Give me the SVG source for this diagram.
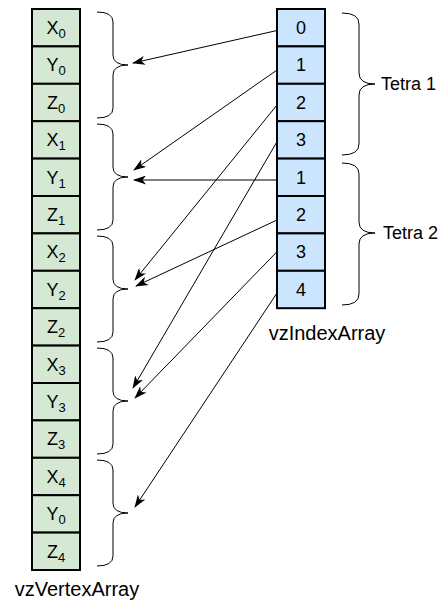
<svg xmlns="http://www.w3.org/2000/svg" width="448" height="603" viewBox="0 0 448 603">
<style>
.vc{fill:#d5e8d4;stroke:#000;stroke-width:2}
.ic{fill:#cce5ff;stroke:#000;stroke-width:2}
.t{font-family:"Liberation Sans",Arial,sans-serif;font-size:18px;fill:#000;text-anchor:middle}
.lbl{font-family:"Liberation Sans",Arial,sans-serif;font-size:18px;fill:#000}
.big{font-size:20px;text-anchor:middle}
.sub{font-size:13px}
.br{fill:none;stroke:#000;stroke-width:1}
.ar{fill:none;stroke:#000;stroke-width:1;marker-end:url(#ah)}
</style>
<defs>
<marker id="ah" viewBox="0 0 13 9" refX="12" refY="4.5" markerWidth="13" markerHeight="9" markerUnits="userSpaceOnUse" orient="auto">
<path d="M0,0 L13,4.5 L0,9 L3.5,4.5 Z" fill="#000"/>
</marker>
</defs>
<g id="vertexArray">
<rect class="vc" x="32" y="9" width="48" height="37.4"/>
<rect class="vc" x="32" y="46.4" width="48" height="37.4"/>
<rect class="vc" x="32" y="83.8" width="48" height="37.4"/>
<rect class="vc" x="32" y="121.2" width="48" height="37.4"/>
<rect class="vc" x="32" y="158.6" width="48" height="37.4"/>
<rect class="vc" x="32" y="196" width="48" height="37.4"/>
<rect class="vc" x="32" y="233.4" width="48" height="37.4"/>
<rect class="vc" x="32" y="270.8" width="48" height="37.4"/>
<rect class="vc" x="32" y="308.2" width="48" height="37.4"/>
<rect class="vc" x="32" y="345.6" width="48" height="37.4"/>
<rect class="vc" x="32" y="383" width="48" height="37.4"/>
<rect class="vc" x="32" y="420.4" width="48" height="37.4"/>
<rect class="vc" x="32" y="457.8" width="48" height="37.4"/>
<rect class="vc" x="32" y="495.2" width="48" height="37.4"/>
<rect class="vc" x="32" y="532.6" width="48" height="37.4"/>
<text class="t" x="56" y="34">X<tspan class="sub" dy="4">0</tspan></text>
<text class="t" x="56" y="71.4">Y<tspan class="sub" dy="4">0</tspan></text>
<text class="t" x="56" y="108.8">Z<tspan class="sub" dy="4">0</tspan></text>
<text class="t" x="56" y="146.2">X<tspan class="sub" dy="4">1</tspan></text>
<text class="t" x="56" y="183.6">Y<tspan class="sub" dy="4">1</tspan></text>
<text class="t" x="56" y="221">Z<tspan class="sub" dy="4">1</tspan></text>
<text class="t" x="56" y="258.4">X<tspan class="sub" dy="4">2</tspan></text>
<text class="t" x="56" y="295.8">Y<tspan class="sub" dy="4">2</tspan></text>
<text class="t" x="56" y="333.2">Z<tspan class="sub" dy="4">2</tspan></text>
<text class="t" x="56" y="370.6">X<tspan class="sub" dy="4">3</tspan></text>
<text class="t" x="56" y="408">Y<tspan class="sub" dy="4">3</tspan></text>
<text class="t" x="56" y="445.4">Z<tspan class="sub" dy="4">3</tspan></text>
<text class="t" x="56" y="482.8">X<tspan class="sub" dy="4">4</tspan></text>
<text class="t" x="56" y="520.2">Y<tspan class="sub" dy="4">0</tspan></text>
<text class="t" x="56" y="557.6">Z<tspan class="sub" dy="4">4</tspan></text>
</g>
<g id="vertexLabel">
<text class="lbl big" x="77" y="596">vzVertexArray</text>
</g>
<g id="indexArray">
<rect class="ic" x="277" y="9" width="48" height="37.4"/>
<rect class="ic" x="277" y="46.4" width="48" height="37.4"/>
<rect class="ic" x="277" y="83.8" width="48" height="37.4"/>
<rect class="ic" x="277" y="121.2" width="48" height="37.4"/>
<rect class="ic" x="277" y="158.6" width="48" height="37.4"/>
<rect class="ic" x="277" y="196" width="48" height="37.4"/>
<rect class="ic" x="277" y="233.4" width="48" height="37.4"/>
<rect class="ic" x="277" y="270.8" width="48" height="37.4"/>
<text class="t" x="301" y="34">0</text>
<text class="t" x="301" y="71.4">1</text>
<text class="t" x="301" y="108.8">2</text>
<text class="t" x="301" y="146.2">3</text>
<text class="t" x="301" y="183.6">1</text>
<text class="t" x="301" y="221">2</text>
<text class="t" x="301" y="258.4">3</text>
<text class="t" x="301" y="295.8">4</text>
</g>
<g id="indexLabel">
<text class="lbl big" x="327" y="340">vzIndexArray</text>
</g>
<g id="vertexBraces">
<path class="br" d="M97,12 Q113,12 113,22 L113,55 Q113,65 128,65 Q113,65 113,75 L113,108 Q113,118 97,118"/>
<path class="br" d="M97,124 Q113,124 113,134 L113,167 Q113,177 128,177 Q113,177 113,187 L113,220 Q113,230 97,230"/>
<path class="br" d="M97,236 Q113,236 113,246 L113,279 Q113,289 128,289 Q113,289 113,299 L113,332 Q113,342 97,342"/>
<path class="br" d="M97,348 Q113,348 113,358 L113,391 Q113,401 128,401 Q113,401 113,411 L113,444 Q113,454 97,454"/>
<path class="br" d="M97,460 Q113,460 113,470 L113,503 Q113,513 128,513 Q113,513 113,523 L113,556 Q113,566 97,566"/>
</g>
<g id="tetra1">
<path class="br" d="M342,13 Q359,13 359,24 L359,73 Q359,84 375,84 Q359,84 359,95 L359,144 Q359,155 342,155"/>
<text class="lbl" x="381" y="90">Tetra 1</text>
</g>
<g id="tetra2">
<path class="br" d="M342,163 Q359,163 359,174 L359,222 Q359,233 375,233 Q359,233 359,244 L359,294 Q359,305 342,305"/>
<text class="lbl" x="383" y="239">Tetra 2</text>
</g>
<g id="connectors">
<line class="ar" x1="277" y1="30.5" x2="133" y2="63"/>
<line class="ar" x1="277" y1="70" x2="134" y2="170"/>
<line class="ar" x1="277" y1="105" x2="135" y2="280"/>
<line class="ar" x1="277" y1="141.7" x2="133" y2="388"/>
<line class="ar" x1="277" y1="180" x2="134" y2="180"/>
<line class="ar" x1="277" y1="220" x2="136" y2="286"/>
<line class="ar" x1="277" y1="251.7" x2="135" y2="398"/>
<line class="ar" x1="277" y1="293" x2="135" y2="507"/>
</g>
</svg>
